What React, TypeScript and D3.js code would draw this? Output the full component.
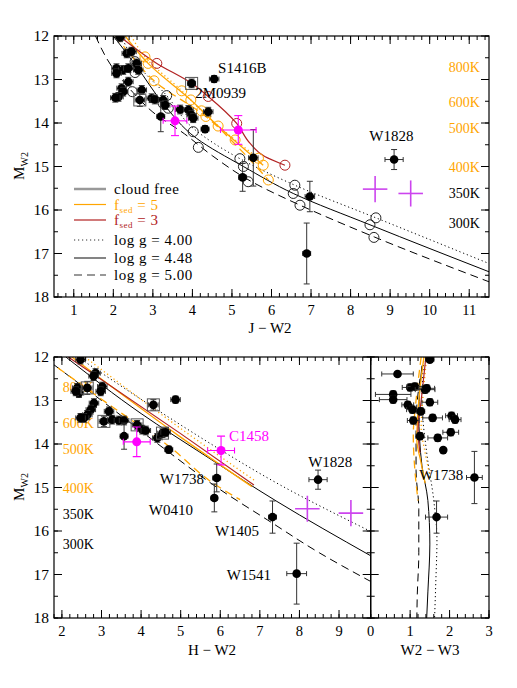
import * as d3 from "d3";

const W = 517, H = 688;
const ORANGE = "#ffa500";
const RED = "#b22222";
const MAG = "#ff00ff";
const VIOLET = "#cc44ee";
const FONT = "'Liberation Serif', 'DejaVu Serif', serif";

// ---------- J-W2 panel ----------
// observed [J-W2, M_W2, xerr, yerr, boxed]
const topObs: [number, number, number, number, number][] = [
  [2.17, 12.03, 0.12, 0.1, 0], [2.34, 12.40, 0.12, 0.1, 0], [2.46, 12.36, 0.12, 0.1, 0],
  [2.08, 12.74, 0.12, 0.1, 0], [2.25, 12.78, 0.12, 0.1, 0], [2.38, 12.74, 0.12, 0.1, 0],
  [2.59, 12.63, 0.12, 0.1, 0], [2.63, 12.78, 0.12, 0.1, 0], [2.08, 12.86, 0.12, 0.1, 0],
  [2.38, 13.05, 0.12, 0.1, 0], [2.21, 13.20, 0.12, 0.1, 0], [2.25, 13.28, 0.12, 0.1, 0],
  [2.13, 13.40, 0.12, 0.1, 0], [2.05, 13.42, 0.12, 0.1, 0], [2.72, 13.24, 0.12, 0.1, 0],
  [2.67, 13.47, 0.12, 0.15, 1], [2.97, 13.43, 0.12, 0.1, 0], [3.05, 13.46, 0.12, 0.1, 0],
  [3.26, 13.47, 0.12, 0.1, 0], [3.31, 13.59, 0.12, 0.1, 0], [3.98, 13.09, 0.1, 0.1, 1],
  [4.55, 12.99, 0.12, 0.08, 0], [3.20, 13.85, 0.1, 0.35, 0], [3.69, 13.69, 0.12, 0.1, 0],
  [3.90, 13.70, 0.12, 0.1, 0], [3.98, 13.82, 0.12, 0.1, 0], [4.02, 13.89, 0.12, 0.1, 0],
  [4.40, 13.74, 0.12, 0.1, 0], [4.32, 14.14, 0.1, 0.08, 0], [5.54, 14.80, 0.12, 0.65, 0],
  [5.27, 15.25, 0.1, 0.32, 0], [6.97, 15.69, 0.12, 0.35, 0], [6.89, 17.0, 0.1, 0.7, 0],
  [9.10, 14.84, 0.23, 0.23, 0],
];
const topMag: [number, number, number, number][] = [[3.56, 13.95, 0.3, 0.34], [5.16, 14.16, 0.45, 0.33]];
const topCross: [number, number][] = [[8.62, 15.52], [9.52, 15.62]];

// model grid points
const topBlackCirc: [number, number][] = [
  [2.55, 12.59], [2.59, 12.70], [2.55, 12.84], [2.48, 13.28], [3.35, 13.37], [3.26, 13.55],
  [3.39, 13.66], [4.02, 14.20], [4.15, 14.56], [5.20, 14.82], [5.29, 15.0], [5.41, 15.35],
  [6.59, 15.43], [6.55, 15.62], [6.72, 15.89], [8.64, 16.18], [8.49, 16.34], [8.59, 16.63],
];
const topOrangeCirc: [number, number][] = [
  [2.80, 12.48], [2.88, 12.63], [3.03, 13.03], [3.73, 13.26], [3.96, 13.47], [4.23, 13.72],
  [4.34, 13.85], [4.65, 14.07], [5.08, 14.39], [5.67, 14.81], [5.79, 14.97], [5.92, 15.31],
];
const topRedCirc: [number, number][] = [[3.10, 12.63], [4.40, 13.39], [5.12, 14.01], [6.34, 14.97]];

// model tracks
const topCfDot: [number, number][] = [[2.2, 12.0], [2.55, 12.59], [3.35, 13.37], [4.02, 14.12], [5.20, 14.82], [6.59, 15.43], [8.64, 16.18], [11.5, 17.23]];
const topCfSol: [number, number][] = [[2.0, 12.0], [2.59, 12.70], [3.26, 13.55], [4.1, 14.35], [5.29, 15.0], [6.55, 15.62], [8.49, 16.34], [11.5, 17.42]];
const topCfDash: [number, number][] = [[1.55, 12.0], [1.96, 12.7], [2.5, 13.3], [3.0, 13.75], [3.8, 14.25], [4.5, 14.75], [5.5, 15.35], [6.7, 15.88], [8.6, 16.62], [11.5, 17.65]];
const topF5Dot: [number, number][] = [[2.45, 12.0], [2.80, 12.48], [3.73, 13.26], [4.23, 13.72], [5.08, 14.39], [5.67, 14.81]];
const topF5Sol: [number, number][] = [[2.3, 12.0], [2.88, 12.63], [3.96, 13.47], [4.65, 14.07], [5.79, 14.97]];
const topF5Dash: [number, number][] = [[2.05, 12.0], [2.5, 12.5], [3.03, 13.03], [4.34, 13.85], [5.2, 14.6], [5.92, 15.31]];
const topF3Sol: [number, number][] = [[2.15, 12.0], [3.10, 12.63], [4.0, 13.1], [4.40, 13.39], [5.12, 14.01], [5.46, 14.47], [5.83, 14.77], [6.34, 14.97]];

const topTemps: [string, number, string][] = [
  ["800K", 12.72, ORANGE], ["600K", 13.52, ORANGE], ["500K", 14.11, ORANGE],
  ["400K", 15.01, ORANGE], ["350K", 15.61, "#000"], ["300K", 16.3, "#000"],
];
const topNames: [string, number, number, string][] = [
  ["S1416B", 4.65, 12.73, "start"], ["2M0939", 4.07, 13.3, "start"], ["W1828", 9.03, 14.31, "middle"],
];

// ---------- H-W2 panel ----------
const botObs: [number, number, number, number, number][] = [
  [2.47, 12.06, 0.12, 0.1, 0], [2.85, 12.37, 0.12, 0.1, 0], [2.80, 12.44, 0.12, 0.1, 0],
  [2.39, 12.71, 0.12, 0.1, 0], [2.43, 12.83, 0.12, 0.1, 0], [2.35, 12.79, 0.12, 0.1, 0],
  [2.64, 12.71, 0.12, 0.15, 1], [3.02, 12.68, 0.12, 0.1, 0], [2.98, 12.79, 0.12, 0.1, 0],
  [2.81, 13.06, 0.12, 0.1, 0], [2.73, 13.21, 0.12, 0.1, 0], [2.64, 13.33, 0.12, 0.1, 0],
  [2.56, 13.40, 0.12, 0.1, 0], [2.47, 13.40, 0.12, 0.1, 0], [3.06, 13.48, 0.12, 0.12, 1],
  [3.19, 13.25, 0.12, 0.1, 0], [3.27, 13.44, 0.12, 0.1, 0], [3.44, 13.46, 0.12, 0.1, 0],
  [3.57, 13.46, 0.12, 0.1, 0], [3.57, 13.82, 0.1, 0.3, 0], [3.90, 13.56, 0.12, 0.1, 1],
  [4.03, 13.67, 0.12, 0.1, 0], [4.12, 13.69, 0.12, 0.1, 0], [4.31, 13.10, 0.12, 0.12, 1],
  [4.87, 12.98, 0.12, 0.08, 0], [4.41, 13.86, 0.12, 0.1, 0], [4.54, 13.75, 0.12, 0.1, 1],
  [4.62, 13.73, 0.12, 0.1, 0], [4.70, 14.13, 0.1, 0.08, 0],
  [5.91, 14.78, 0.1, 0.32, 0], [5.85, 15.24, 0.08, 0.32, 0], [7.32, 15.68, 0.1, 0.37, 0],
  [7.93, 16.98, 0.25, 0.7, 0], [8.47, 14.82, 0.23, 0.22, 0],
];
const botMag: [number, number, number, number][] = [[3.89, 13.95, 0.34, 0.34], [6.02, 14.15, 0.34, 0.33]];
const botCross: [number, number][] = [[8.2, 15.49], [9.3, 15.59]];

const botCfDot: [number, number][] = [[2.4, 12.0], [4.98, 13.55], [5.59, 13.9], [7.51, 14.94], [9.8, 16.01]];
const botCfSol: [number, number][] = [[2.1, 12.0], [4.0, 13.3], [5.59, 14.25], [7.43, 15.32], [9.8, 16.57]];
const botCfDash: [number, number][] = [[1.8, 12.18], [3.0, 13.0], [4.5, 14.05], [6.0, 15.05], [7.2, 15.75], [8.5, 16.5], [9.8, 17.16]];
const botF5Dot: [number, number][] = [[2.58, 12.0], [4.98, 13.63], [6.9, 14.86]];
const botF5Sol: [number, number][] = [[2.25, 12.0], [4.98, 13.83], [6.8, 14.98]];
const botF5Dash: [number, number][] = [[1.9, 12.25], [3.2, 13.1], [4.7, 14.05], [5.9, 14.95], [6.5, 15.28]];
const botF3Sol: [number, number][] = [[2.16, 12.0], [4.98, 13.75], [6.85, 14.94]];

const botTemps: [string, number, string][] = [
  ["800K", 12.69, ORANGE], ["600K", 13.51, ORANGE], ["500K", 14.11, ORANGE],
  ["400K", 15.0, ORANGE], ["350K", 15.6, "#000"], ["300K", 16.31, "#000"],
];
const botNames: [string, number, number, string, string][] = [
  ["W1738", 5.59, 14.81, "end", "#000"], ["W0410", 5.31, 15.51, "end", "#000"],
  ["W1405", 6.98, 16.0, "end", "#000"], ["W1541", 7.28, 17.0, "end", "#000"],
  ["C1458", 6.22, 13.81, "start", MAG], ["W1828", 8.22, 14.41, "start", "#000"],
];

// ---------- W2-W3 panel ----------
const smObs: [number, number, number, number][] = [
  [1.50, 12.06, 0.1, 0.05], [0.68, 12.39, 0.4, 0.05], [1.0, 12.7, 0.2, 0.08], [1.12, 12.68, 0.2, 0.08],
  [1.38, 12.75, 0.25, 0.08], [1.42, 12.72, 0.2, 0.08], [0.57, 12.86, 0.45, 0.08], [0.57, 12.98, 0.35, 0.08],
  [1.50, 13.04, 0.2, 0.08], [0.94, 13.10, 0.15, 0.08], [1.06, 13.21, 0.15, 0.08], [1.27, 13.25, 0.1, 0.08],
  [1.08, 13.46, 0.15, 0.08], [1.57, 13.40, 0.25, 0.08], [2.05, 13.35, 0.15, 0.08], [2.14, 13.44, 0.15, 0.08],
  [2.03, 13.73, 0.2, 0.08], [1.25, 13.82, 0.1, 0.08], [1.70, 13.86, 0.25, 0.08], [1.84, 14.14, 0.05, 0.05],
  [2.63, 14.77, 0.2, 0.6], [1.67, 15.68, 0.28, 0.37],
];
const smCfDot: [number, number][] = [[1.35, 12.0], [1.3, 13.0], [1.42, 14.2], [1.6, 15.3], [1.68, 16.2], [1.65, 17.2], [1.62, 18.0]];
const smCfSol: [number, number][] = [[1.3, 12.2], [1.22, 13.3], [1.3, 14.5], [1.45, 15.3], [1.5, 16.3], [1.45, 17.4], [1.42, 18.0]];
const smCfDash: [number, number][] = [[1.25, 12.5], [1.15, 13.5], [1.15, 14.6], [1.22, 15.5], [1.22, 16.5], [1.18, 17.5], [1.17, 18.0]];
const smF5Dot: [number, number][] = [[1.42, 12.0], [1.32, 13.0], [1.28, 13.6], [1.38, 14.2], [1.52, 14.8]];
const smF5Sol: [number, number][] = [[1.35, 12.0], [1.22, 13.0], [1.17, 13.9], [1.27, 14.4], [1.38, 14.9]];
const smF5Dash: [number, number][] = [[1.28, 12.0], [1.15, 13.0], [1.08, 13.8], [1.12, 14.6], [1.2, 15.3]];
const smF3Sol: [number, number][] = [[1.4, 12.0], [1.28, 13.0], [1.2, 13.7], [1.25, 14.2]];

const legendRows: [string, string, string][] = [
  ["cloud free", "#999", "solid"], ["fsed = 5", ORANGE, "solid"], ["fsed = 3", RED, "solid"],
  ["log g = 4.00", "#333", "dot"], ["log g = 4.48", "#333", "solid"], ["log g = 5.00", "#333", "dash"],
];

const DASH: Record<string, string | undefined> = { solid: undefined, dot: "1.2,2.8", dash: "8,5" };

const xTop = d3.scaleLinear([0.5, 11.5], [54, 489]);
const yTop = d3.scaleLinear([12, 18], [36, 297]);
const xBot = d3.scaleLinear([1.8, 9.8], [54, 370.7]);
const yBot = d3.scaleLinear([12, 18], [357, 618]);
const xSm = d3.scaleLinear([0, 3], [370.7, 489]);

type S = d3.ScaleLinear<number, number>;

function Frame({ x, y, id, labels = true }: { x: S; y: S; id: string; labels?: boolean }) {
  const [x0, x1] = x.range();
  const [y0, y1] = y.range();
  const [dx0, dx1] = x.domain();
  const xMinor = d3.range(Math.ceil(dx0 * 5) / 5, dx1 + 1e-6, 0.2);
  const xMajor = d3.range(Math.ceil(dx0), dx1 + 1e-6, 1);
  const yMinor = d3.range(12, 18.01, 0.5);
  const yMajor = d3.range(12, 18.01, 1);
  return (
    <g stroke="#000" strokeWidth={1}>
      {xMinor.map((v, i) => (
        <g key={"xm" + i}>
          <line x1={x(v)} x2={x(v)} y1={y1} y2={y1 - 4} />
          <line x1={x(v)} x2={x(v)} y1={y0} y2={y0 + 4} />
        </g>
      ))}
      {xMajor.map((v, i) => (
        <g key={"xM" + i}>
          <line x1={x(v)} x2={x(v)} y1={y1} y2={y1 - 8} />
          <line x1={x(v)} x2={x(v)} y1={y0} y2={y0 + 8} />
          <text x={x(v)} y={y1 + 18} textAnchor="middle" stroke="none" fill="#000" fontFamily={FONT} fontSize={14.5}>{v}</text>
        </g>
      ))}
      {yMinor.map((v, i) => (
        <g key={"ym" + i}>
          <line x1={x0} x2={x0 + 4} y1={y(v)} y2={y(v)} />
          <line x1={x1} x2={x1 - 4} y1={y(v)} y2={y(v)} />
        </g>
      ))}
      {yMajor.map((v, i) => (
        <g key={"yM" + i}>
          <line x1={x0} x2={x0 + 8} y1={y(v)} y2={y(v)} />
          <line x1={x1} x2={x1 - 8} y1={y(v)} y2={y(v)} />
          {labels && (
            <text x={x0 - 5} y={y(v) + 5} textAnchor="end" stroke="none" fill="#000" fontFamily={FONT} fontSize={15.5}>{v}</text>
          )}
        </g>
      ))}
      <rect x={x0} y={y0} width={x1 - x0} height={y1 - y0} fill="none" strokeWidth={1.2} />
      <clipPath id={id}>
        <rect x={x0} y={y0} width={x1 - x0} height={y1 - y0} />
      </clipPath>
    </g>
  );
}

function Track({ d, x, y, color, style, w = 1 }: { d: [number, number][]; x: S; y: S; color: string; style: string; w?: number }) {
  const line = d3.line<[number, number]>().x(p => x(p[0])).y(p => y(p[1])).curve(d3.curveMonotoneY);
  return <path d={line(d) || ""} fill="none" stroke={color} strokeWidth={w} strokeDasharray={DASH[style]} />;
}

function Obs({ pts, x, y }: { pts: [number, number, number, number, number?][]; x: S; y: S }) {
  return (
    <g>
      {pts.map((p, i) => {
        const cx = x(p[0]), cy = y(p[1]);
        const xa = x(p[0] - p[2]), xb = x(p[0] + p[2]);
        const ya = y(p[1] - p[3]), yb = y(p[1] + p[3]);
        return (
          <g key={i} stroke="#333" strokeWidth={1}>
            <line x1={xa} x2={xb} y1={cy} y2={cy} />
            <line x1={xa} x2={xa} y1={cy - 2.5} y2={cy + 2.5} />
            <line x1={xb} x2={xb} y1={cy - 2.5} y2={cy + 2.5} />
            <line x1={cx} x2={cx} y1={ya} y2={yb} />
            <line x1={cx - 3} x2={cx + 3} y1={ya} y2={ya} />
            <line x1={cx - 3} x2={cx + 3} y1={yb} y2={yb} />
            {p[4] ? <rect x={cx - 6} y={cy - 6} width={12} height={12} fill="none" stroke="#555" /> : null}
            <circle cx={cx} cy={cy} r={4.3} fill="#000" stroke="none" />
          </g>
        );
      })}
    </g>
  );
}

function MagPts({ pts, x, y }: { pts: [number, number, number, number][]; x: S; y: S }) {
  return (
    <g stroke={MAG} strokeWidth={1.1}>
      {pts.map((p, i) => {
        const cx = x(p[0]), cy = y(p[1]);
        const xa = x(p[0] - p[2]), xb = x(p[0] + p[2]);
        const ya = y(p[1] - p[3]), yb = y(p[1] + p[3]);
        return (
          <g key={i}>
            <line x1={xa} x2={xb} y1={cy} y2={cy} />
            <line x1={xa} x2={xa} y1={cy - 3} y2={cy + 3} />
            <line x1={xb} x2={xb} y1={cy - 3} y2={cy + 3} />
            <line x1={cx} x2={cx} y1={ya} y2={yb} />
            <line x1={cx - 4} x2={cx + 4} y1={ya} y2={ya} />
            <line x1={cx - 4} x2={cx + 4} y1={yb} y2={yb} />
            <circle cx={cx} cy={cy} r={4.5} fill={MAG} stroke="none" />
          </g>
        );
      })}
    </g>
  );
}

function Crosses({ pts, x, y }: { pts: [number, number][]; x: S; y: S }) {
  return (
    <g stroke={VIOLET} strokeWidth={1.6}>
      {pts.map((p, i) => (
        <g key={i}>
          <line x1={x(p[0] - 0.31)} x2={x(p[0] + 0.31)} y1={y(p[1])} y2={y(p[1])} />
          <line x1={x(p[0])} x2={x(p[0])} y1={y(p[1] - 0.3)} y2={y(p[1] + 0.3)} />
        </g>
      ))}
    </g>
  );
}

function Circs({ pts, x, y, color }: { pts: [number, number][]; x: S; y: S; color: string }) {
  return (
    <g fill="none" stroke={color} strokeWidth={1}>
      {pts.map((p, i) => <circle key={i} cx={x(p[0])} cy={y(p[1])} r={5} />)}
    </g>
  );
}

function MW2({ cy }: { cy: number }) {
  return (
    <text transform={`translate(24,${cy}) rotate(-90)`} textAnchor="middle" fontFamily={FONT} fontSize={15}>
      M<tspan fontSize={10} dy={4}>W2</tspan>
    </text>
  );
}

export default function App() {
  return (
    <svg width={W} height={H} style={{ display: "block", margin: "-8px" }} viewBox={`0 0 ${W} ${H}`}>
      <rect width={W} height={H} fill="#fff" />
      {/* top panel */}
      <g clipPath="url(#cTop)">
        <Track d={topCfDot} x={xTop} y={yTop} color="#000" style="dot" />
        <Track d={topCfSol} x={xTop} y={yTop} color="#000" style="solid" />
        <Track d={topCfDash} x={xTop} y={yTop} color="#000" style="dash" />
        <Track d={topF5Dot} x={xTop} y={yTop} color={ORANGE} style="dot" w={1.3} />
        <Track d={topF5Sol} x={xTop} y={yTop} color={ORANGE} style="solid" w={1.3} />
        <Track d={topF5Dash} x={xTop} y={yTop} color={ORANGE} style="dash" w={1.3} />
        <Track d={topF3Sol} x={xTop} y={yTop} color={RED} style="solid" w={1.2} />
        <Circs pts={topBlackCirc} x={xTop} y={yTop} color="#222" />
        <Circs pts={topOrangeCirc} x={xTop} y={yTop} color={ORANGE} />
        <Circs pts={topRedCirc} x={xTop} y={yTop} color={RED} />
        <Obs pts={topObs} x={xTop} y={yTop} />
        <MagPts pts={topMag} x={xTop} y={yTop} />
        <Crosses pts={topCross} x={xTop} y={yTop} />
      </g>
      <Frame x={xTop} y={yTop} id="cTop" />
      {topTemps.map(([t, v, c]) => (
        <text key={t} x={xTop(11.27)} y={yTop(v) + 5} textAnchor="end" fill={c} fontFamily={FONT} fontSize={14}>{t}</text>
      ))}
      {topNames.map(([t, xv, yv, a]) => (
        <text key={t} x={xTop(xv)} y={yTop(yv) + 5} textAnchor={a as any} fontFamily={FONT} fontSize={15}>{t}</text>
      ))}
      {legendRows.map(([t, c, s], i) => {
        const ly = [189, 204.5, 220, 240, 258, 275][i];
        const isF = t.startsWith("fsed");
        return (
          <g key={t}>
            <line x1={74} x2={106} y1={ly} y2={ly} stroke={c} strokeWidth={i === 0 ? 2.5 : 1.2} strokeDasharray={DASH[s]} />
            <text x={114} y={ly + 5} fill={i === 1 ? ORANGE : i === 2 ? RED : "#000"} fontFamily={FONT} fontSize={15} letterSpacing={0.5}>
              {isF ? (<>f<tspan fontSize={9} dy={3}>sed</tspan><tspan dy={-3}>{t.slice(4)}</tspan></>) : t}
            </text>
          </g>
        );
      })}
      <text x={270} y={333} textAnchor="middle" fontFamily={FONT} fontSize={15}>J − W2</text>
      <MW2 cy={166} />

      {/* bottom main panel */}
      <g clipPath="url(#cBot)">
        <Track d={botCfDot} x={xBot} y={yBot} color="#000" style="dot" />
        <Track d={botCfSol} x={xBot} y={yBot} color="#000" style="solid" />
        <Track d={botCfDash} x={xBot} y={yBot} color="#000" style="dash" />
        <Track d={botF5Dot} x={xBot} y={yBot} color={ORANGE} style="dot" w={1.3} />
        <Track d={botF5Sol} x={xBot} y={yBot} color={ORANGE} style="solid" w={1.3} />
        <Track d={botF5Dash} x={xBot} y={yBot} color={ORANGE} style="dash" w={1.3} />
        <Track d={botF3Sol} x={xBot} y={yBot} color={RED} style="solid" w={1.2} />
        {botTemps.map(([t, v, c]) => (
          <text key={t} x={xBot(2.02)} y={yBot(v) + 5} fill={c} fontFamily={FONT} fontSize={14}>{t}</text>
        ))}
        <Obs pts={botObs} x={xBot} y={yBot} />
        <MagPts pts={botMag} x={xBot} y={yBot} />
        <Crosses pts={botCross} x={xBot} y={yBot} />
      </g>
      <Frame x={xBot} y={yBot} id="cBot" />
      {botNames.map(([t, xv, yv, a, c]) => (
        <text key={t} x={xBot(xv)} y={yBot(yv) + 5} textAnchor={a as any} fill={c} fontFamily={FONT} fontSize={15}>{t}</text>
      ))}
      <text x={212} y={655} textAnchor="middle" fontFamily={FONT} fontSize={15}>H − W2</text>
      <MW2 cy={487} />

      {/* W2-W3 panel */}
      <g clipPath="url(#cSm)">
        <Track d={smCfDot} x={xSm} y={yBot} color="#000" style="dot" />
        <Track d={smCfSol} x={xSm} y={yBot} color="#000" style="solid" />
        <Track d={smCfDash} x={xSm} y={yBot} color="#000" style="dash" />
        <Track d={smF5Dot} x={xSm} y={yBot} color={ORANGE} style="dot" w={1.3} />
        <Track d={smF5Sol} x={xSm} y={yBot} color={ORANGE} style="solid" w={1.3} />
        <Track d={smF5Dash} x={xSm} y={yBot} color={ORANGE} style="dash" w={1.3} />
        <Track d={smF3Sol} x={xSm} y={yBot} color={RED} style="solid" w={1.2} />
        <Obs pts={smObs} x={xSm} y={yBot} />
      </g>
      <Frame x={xSm} y={yBot} id="cSm" labels={false} />
      <text x={xSm(1.23)} y={yBot(14.71) + 5} fontFamily={FONT} fontSize={15}>W1738</text>
      <text x={430} y={655} textAnchor="middle" fontFamily={FONT} fontSize={15}>W2 − W3</text>
    </svg>
  );
}
